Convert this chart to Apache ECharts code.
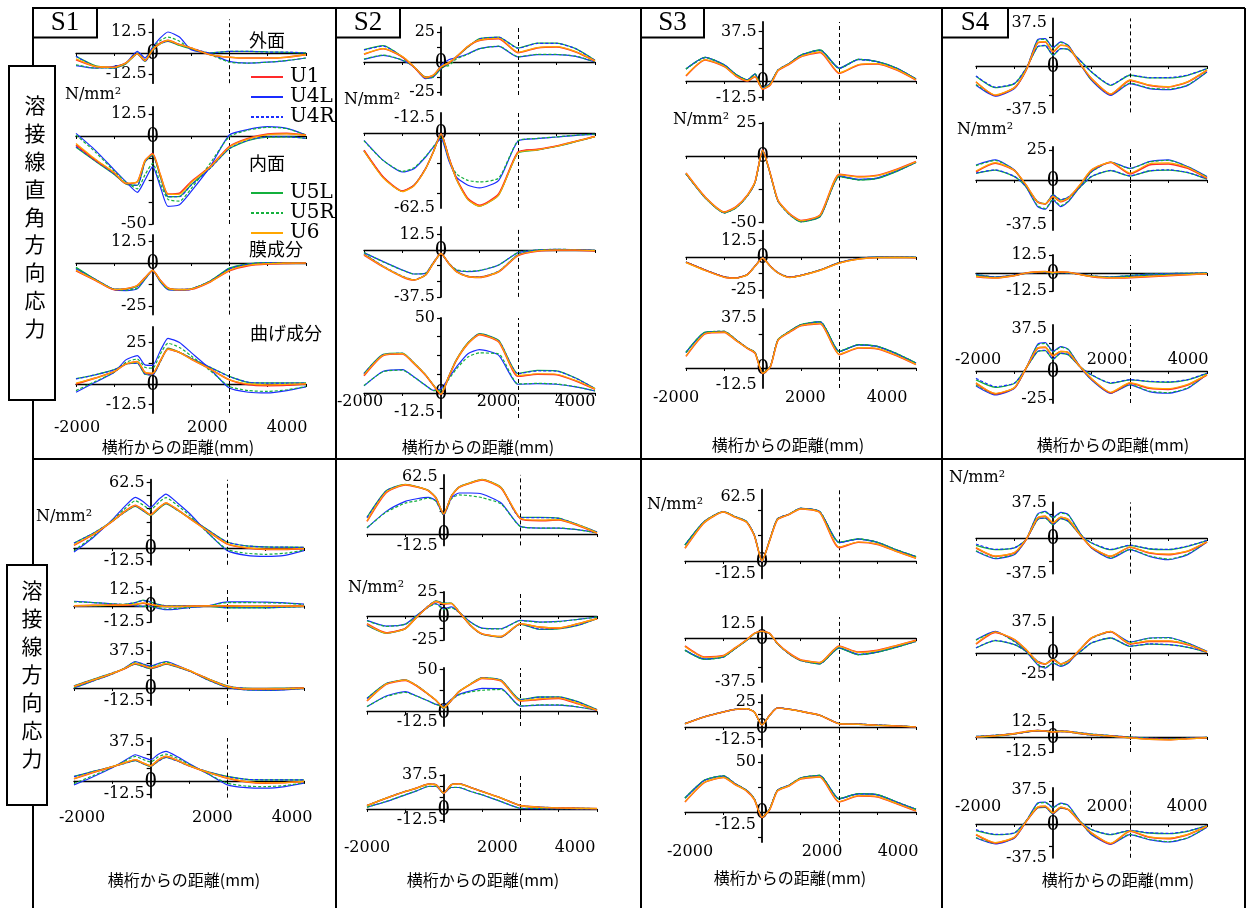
<!DOCTYPE html>
<html>
<head>
<meta charset="utf-8">
<script src="https://cdn.jsdelivr.net/npm/echarts@6/dist/echarts.min.js"></script>
<style>
html,body{margin:0;padding:0;background:#fff;}
#chart{width:1247px;height:908px;}
</style>
</head>
<body>
<div id="chart"></div>
<script>
// Distance from the cross girder (mm) at which stresses are sampled
const xPos = [-2000, -1500, -1000, -700, -400, -200, 0, 200, 400, 700, 1000, 1500, 2000, 2500, 3000, 3500, 4000];
const seriesNames = ['U1', 'U4L', 'U4R', 'U5L', 'U5R', 'U6'];
const xTickLabels = [-2000, 2000, 4000];

// Each block: rows in seriesNames order (U1, U4L, U4R, U5L, U5R, U6), N/mm2
// ---- S1: stress perpendicular to the weld line (outer, inner, membrane, bending)
const S1_perp_1 = [
  [-4, -8, -8.5, -6, -0.5, -4.5, 2, 6, 7.5, 5, 3, -1, -2.5, -3, -3, -2.5, -1],
  [-7.5, -9, -8, -6, 1, -3, 3.5, 9, 12.5, 9.5, 2, -0.5, -5, -6, -5.5, -4.5, -3],
  [-2, -8, -9, -6, -0.5, -5, 1.5, 5.5, 7, 5, 3, 0, 1, 1, 0.5, 0.5, 0],
  [-2, -7.5, -9, -6.5, -0.5, -5, 1.5, 5.5, 7, 4.5, 2.5, 0, 1, 1, 0.7, 0.4, 0],
  [-7, -9, -8.5, -6, 0, -4, 3, 7.5, 9.5, 7, 2.5, -1, -5.5, -6, -5.5, -4.5, -3],
  [-3.5, -8, -8.5, -6, -0.5, -4.5, 2, 5.5, 7.5, 5, 3, -1, -2.5, -3, -3, -2.5, -1]
];
const S1_perp_2 = [
  [-5, -13.5, -21, -27, -26, -14, -10, -22, -33, -32.5, -26, -17.4, -6, -1.3, 1.1, 1.5, 0.6],
  [1.5, -8, -19.3, -26, -32, -25, -17.4, -28.8, -40, -39, -31.6, -17.4, 0.6, 3.8, 5.3, 4.4, 0.6],
  [-6, -14, -21.6, -27, -28, -14.6, -10.8, -23, -34.5, -34.5, -28, -18.4, -7, -2.3, -0.4, -0.4, -1.3],
  [-6.3, -14.2, -21.8, -27.2, -28, -14.8, -11, -23.2, -34.5, -34.3, -27.8, -18.2, -7.2, -2.5, -0.6, -0.5, -1.3],
  [0.6, -9, -20, -26, -30, -22, -15.5, -27, -36, -37, -30, -15.5, -0.4, 3.4, 5, 4.2, 0.6],
  [-4.2, -13, -20.8, -26.8, -26, -14, -10.2, -22, -33.2, -33, -26.5, -17.6, -6.3, -1.6, 0.8, 1.2, 0.4]
];
const S1_perp_3 = [
  [-4.5, -10, -15.5, -15, -13, -8.5, -4.3, -10, -14.5, -15.5, -15.3, -11, -4.5, -1.5, -0.5, -0.2, 0],
  [-3, -9.5, -15.5, -16, -15, -9.5, -4.5, -11, -15.5, -15.8, -15.3, -10.5, -3.5, -0.8, 0, 0.2, 0.2],
  [-3.5, -9.8, -15.3, -15.2, -13.5, -8.8, -4.3, -10.3, -14.7, -15.4, -15, -10.8, -3.2, -0.6, 0.2, 0.2, 0.1],
  [-2.5, -9.5, -15.2, -15.2, -13.5, -8.8, -4.3, -10.3, -14.7, -15.4, -15, -10.6, -3, -0.5, 0.2, 0.2, 0.2],
  [-2.8, -9.5, -15.4, -15.8, -14.6, -9.3, -4.4, -10.8, -15.3, -15.7, -15.2, -10.4, -3.3, -0.7, 0.1, 0.2, 0.2],
  [-4.2, -9.9, -15.4, -15, -13.1, -8.6, -4.3, -10.1, -14.6, -15.5, -15.2, -10.9, -4.3, -1.3, -0.4, -0.1, 0]
];
const S1_perp_4 = [
  [0, 3.5, 7.5, 12, 13.5, 7, 6.2, 14, 21, 19, 15, 9, 2.5, -0.5, -1, -0.8, 0],
  [-5, 1, 7, 14.5, 17, 11.5, 11.2, 20, 27.5, 25, 19, 9, -2.5, -5, -5.4, -4, -1.8],
  [3, 5.5, 8.5, 12, 12.5, 6, 5.5, 13.5, 21, 19, 15.5, 10, 4.5, 1, 0.5, 0.5, 0.5],
  [3.2, 5.5, 8.6, 12, 12.6, 5.8, 5.4, 13.5, 21.5, 19, 15.5, 10, 4.6, 1, 0.6, 0.6, 0.6],
  [-4, 1.5, 7, 13, 15, 10, 9.5, 18, 24.5, 22, 17, 8, -1.5, -4, -4.5, -3.5, -1.5],
  [0.5, 3.5, 7.5, 12, 13.5, 7, 6.5, 14, 21, 19, 15, 9, 2.5, 0, -0.5, -0.3, 0]
];
// ---- S1: stress along the weld line
const S1_along_1 = [
  [2.5, 12.7, 25.4, 34.3, 40.6, 36.5, 31.7, 38, 42.9, 36.5, 28.6, 15.9, 3.8, 0, -1.3, -1.3, -0.6],
  [-3.8, 10, 27, 38.7, 48.3, 44.4, 38.7, 46, 51.4, 42.9, 33.3, 14.3, -2.5, -7, -8, -7, -2.5],
  [4.5, 14, 25.5, 33.5, 40, 35.5, 31.5, 37.5, 42.5, 36, 29, 17, 5.5, 2, 1, 0.8, 0.5],
  [4.8, 14, 25.5, 33.5, 39.7, 35.5, 31, 37, 42, 36, 29, 17, 5.7, 2, 1, 0.8, 0.6],
  [-2.5, 11, 26.5, 36.5, 45, 41, 36.5, 43, 48, 40.5, 31.5, 14, -1.5, -5, -6, -5, -2],
  [3, 13, 25.5, 34, 40.5, 36.5, 31.5, 38, 43, 36.5, 28.5, 16, 4, 0.3, -1, -1, -0.5]
];
const S1_along_2 = [
  [0, 0.3, 0.5, 0.5, 1, 2, 1, 0, -0.5, -0.5, -0.3, 0, 0, -0.3, -0.3, -0.3, -0.2],
  [3.5, 2.5, 1.5, 1, 0, -0.5, -0.5, -2, -3, -2.5, -1.5, 0, 3, 3, 2.8, 2.3, 1.3],
  [-0.5, 0, 0.5, 1, 2.5, 4, 3, 1, 0, 0, 0, 0, -1.5, -1.5, -1.5, -1, -0.5],
  [-0.5, 0, 0.5, 1, 2.5, 4.4, 3, 1, 0, 0, 0, -0.3, -1.5, -1.5, -1.5, -1, -0.5],
  [3, 2.5, 1.5, 1, 0.3, -0.5, -0.5, -1.5, -2.5, -2, -1.2, 0, 2.5, 2.5, 2.3, 2, 1],
  [0, 0.3, 0.5, 0.7, 1.2, 2.2, 1.2, 0, -0.5, -0.5, -0.3, 0, -0.2, -0.4, -0.4, -0.3, -0.2]
];
const S1_along_3 = [
  [1.5, 8, 14.5, 19, 24.5, 22.5, 20, 22, 24.5, 21.5, 17.5, 9, 1.5, -1, -1, -0.7, 0],
  [0, 7, 14, 19.5, 26.5, 24, 22, 24.5, 26.5, 22.5, 17.5, 8, 0.5, -2, -2.3, -1.8, -0.5],
  [2, 8.5, 15, 19, 24, 21.5, 19.5, 21.5, 24, 21, 17, 9, 2, -0.5, -0.7, -0.5, 0],
  [2.2, 8.6, 15, 19, 24, 21.5, 19.3, 21.4, 23.8, 20.8, 17, 9.2, 2.2, -0.4, -0.6, -0.4, 0],
  [0.3, 7, 14, 19.5, 26, 23.5, 21.5, 24, 26, 22, 17.5, 8, 0.7, -1.8, -2, -1.6, -0.4],
  [1.6, 8.1, 14.6, 19.1, 24.6, 22.6, 20.1, 22.1, 24.6, 21.6, 17.6, 9.1, 1.6, -0.9, -0.9, -0.6, 0]
];
const S1_along_4 = [
  [2, 8, 13.5, 17, 20.2, 17, 14.4, 20, 23.4, 19.5, 14.5, 8, 2.6, -1, -2.2, -1.8, -0.6],
  [-3.8, 4, 12.5, 19, 25, 22.5, 20.2, 25.5, 28.2, 23, 16.5, 6.5, -3.8, -6.5, -7, -5.5, -2.2],
  [4, 9, 13.5, 16.5, 19.5, 16.5, 14, 19, 22.5, 19, 14.5, 8.5, 4, 1.5, 1, 1, 1],
  [4.2, 9, 13.5, 16.5, 19.5, 16.5, 13.8, 19, 22.4, 19, 14.5, 8.5, 4.2, 1.5, 1, 1, 1],
  [-2.5, 5, 13, 18.5, 23.4, 20.5, 18, 23, 25.6, 21.5, 16, 6.5, -2.2, -5, -5.5, -4.5, -1.8],
  [2.2, 8.2, 13.6, 17, 20.3, 17.1, 14.6, 20.1, 23.4, 19.5, 14.6, 8.1, 2.8, -0.8, -2, -1.6, -0.5]
];
// ---- S2
const S2_perp_1 = [
  [6.4, 11, 4.2, -4.2, -13, -11, -4.2, -0.8, 4.2, 13, 18, 19.5, 7.8, 11.7, 12.5, 8.3, 0.8],
  [2.2, 5.6, 1.4, -4.2, -13.9, -12.5, -2.8, 1.9, 3.6, 6.9, 11.1, 13, 4.2, 6.1, 6.1, 4.7, 0],
  [10, 13.3, 4, -4.4, -12.8, -12, -5.3, -1.2, 4.4, 12.7, 19.2, 20.6, 11.5, 15.5, 15.6, 11, 1.3],
  [10.3, 13.6, 4.2, -4.2, -12.5, -12, -5.6, -1.4, 4.2, 12.5, 19.4, 20.8, 11.7, 15.8, 15.8, 11.1, 1.4],
  [2.5, 5.8, 1.6, -4, -13.5, -12.5, -4.5, -3, 2.5, 6.5, 11, 13.2, 4.4, 6.3, 6.3, 4.9, 0.2],
  [6.8, 11.2, 4.5, -4, -12.8, -11, -4, -0.6, 4.4, 13.2, 18.2, 19.8, 8.2, 12, 12.8, 8.6, 1]
];
const S2_perp_2 = [
  [-14.4, -36.7, -48.3, -43.6, -29.7, -15.8, -0.6, -20, -38, -54.7, -60.3, -50.6, -15.8, -13.6, -10.8, -6.9, -2.8],
  [-6.1, -22.8, -32.5, -29.7, -20, -11.7, -4.7, -22.8, -36.7, -43.6, -45.8, -39.4, -6.7, -4.7, -3.3, -1.9, -1.1],
  [-14.6, -36.9, -48.5, -43.6, -29.7, -15.8, -0.6, -20.2, -38.2, -55, -60.6, -51, -16.2, -13.8, -11, -7, -2.9],
  [-14.8, -37, -48.6, -43.6, -29.7, -15.8, -0.8, -20, -38.5, -55.5, -61, -51.5, -16.7, -14.2, -11.2, -7.2, -3],
  [-6.5, -23, -32, -29, -19.5, -11.5, -3, -21.5, -34, -39.5, -40.8, -37.5, -6.5, -4.5, -3.2, -1.8, -1],
  [-15, -37.5, -48.8, -44, -30, -16, -0.8, -20.5, -38.5, -55.5, -61, -51.5, -16.5, -14, -11, -7, -3]
];
const S2_perp_3 = [
  [-4, -13.5, -21.5, -24, -20, -10.7, -2.7, -10.7, -17.3, -21.3, -21.9, -17.5, -4.5, -1, -0.2, -0.2, -0.7],
  [-2.1, -9.3, -16, -19.2, -18.7, -10.1, -3.2, -10.7, -16, -17.3, -16.5, -12, -2.1, 0, 0.5, 0.3, -0.5],
  [-3, -13, -21, -23.8, -19.8, -10.5, -2.7, -10.5, -17, -21, -21.6, -17, -3.8, -0.4, 0.3, 0.2, -0.4],
  [-3.2, -13.2, -21.2, -23.9, -19.9, -10.6, -2.8, -10.6, -17.1, -21.1, -21.7, -17.1, -3.9, -0.5, 0.2, 0.1, -0.4],
  [-2, -9.5, -16.2, -19.2, -18.5, -10, -3, -10.5, -15.8, -17, -16.3, -12, -2, 0, 0.5, 0.3, -0.5],
  [-3.5, -13.3, -21.3, -24, -20, -10.7, -2.7, -10.7, -17.3, -21.3, -21.9, -17.3, -4.2, -0.8, 0, 0, -0.5]
];
const S2_perp_4 = [
  [11.5, 25, 26, 19.6, 11.8, 5.1, -1, 10.7, 21.8, 32.9, 38.9, 34, 11.1, 12.5, 12.2, 8, 2.5],
  [4.7, 14.5, 15.6, 10.7, 5.1, 1.8, 2.9, 10, 17.3, 26.2, 28.9, 25.1, 5.8, 6.2, 5.8, 4, 1.3],
  [12.8, 25.6, 26.4, 19.9, 12, 5.2, -0.5, 11, 22.1, 33.3, 39.3, 34.8, 12.8, 14.8, 14.6, 9.8, 3],
  [13, 25.8, 26.6, 20, 12, 5.3, -0.5, 11, 22.2, 33.5, 39.5, 35, 13, 15, 14.8, 10, 3],
  [5, 14.2, 15.2, 10.5, 5, 1.6, 1.5, 9, 16, 24, 26.7, 26, 6, 6.4, 6, 4.2, 1.4],
  [12, 25.2, 26.2, 19.8, 12, 5.3, -0.8, 10.9, 22, 33, 39, 34.3, 11.5, 12.8, 12.5, 8.3, 2.7]
];
const S2_along_1 = [
  [13.9, 45.5, 54, 51.6, 47.6, 39.6, 22, 41.4, 51.3, 56, 59.5, 50.5, 17, 14.7, 15.4, 9.5, 1.1],
  [6.6, 24.9, 35.9, 38.8, 40.3, 36.6, 21.2, 39.6, 45.1, 45.1, 44, 34.1, 8.4, 6.6, 6.6, 4.8, 1.1],
  [18, 47.2, 54.3, 51.8, 47.8, 39.8, 21.5, 41.6, 51.5, 56.2, 59.8, 51, 18, 18, 17.3, 10.2, 2.1],
  [18.3, 47.5, 54.5, 52, 48, 40, 21.5, 41.8, 51.7, 56.4, 60, 51.2, 18.3, 18.3, 17.6, 10.3, 2.2],
  [7, 24, 34, 36.5, 39.5, 36, 21, 38.5, 43, 42, 40, 33, 8.4, 6.6, 6.6, 4.8, 1.1],
  [14.5, 46, 54.2, 51.8, 47.8, 39.8, 22.5, 41.6, 51.5, 56.2, 59.8, 50.8, 17.5, 15.2, 15.9, 10, 1.3]
];
const S2_along_2 = [
  [-8.1, -17.5, -13, -1, 10, 15, 12.5, 13, 4.2, -9.8, -18.6, -21.5, -8.1, -11.6, -12.6, -8.1, -2.8],
  [-4.6, -10.5, -8.5, 0.7, 9.5, 13, 7.7, 9.5, 4.2, -6.3, -12.6, -13.3, -4.6, -6.3, -5.6, -3.5, -1.1],
  [-9.5, -17.8, -13, -0.8, 10.5, 15.5, 13.2, 13, 4.4, -9.8, -18.8, -21.8, -8.3, -13.7, -13, -9.6, -2.7],
  [-9.8, -18, -13.2, -1, 10.3, 15.8, 13.5, 13.3, 4.4, -10, -19, -22, -8.5, -14, -13.3, -9.8, -2.8],
  [-5, -10.8, -8.7, 0.5, 9.2, 12.5, 6.5, 8.5, 3.8, -6.5, -12.8, -13.5, -4.8, -6.5, -5.8, -3.6, -1.1],
  [-8.5, -17.8, -13.2, -1.2, 10, 15.3, 12.8, 13.2, 4.5, -9.6, -18.5, -21.3, -8, -11.4, -12.4, -8, -2.7]
];
const S2_along_3 = [
  [12.7, 32.5, 37.3, 30.6, 20.6, 13.5, 4.8, 13.5, 23.8, 32.5, 39.7, 36.5, 12.7, 14.7, 15.9, 9.5, 1.6],
  [6, 18.7, 24, 18.7, 12.7, 8.7, 7.9, 14.7, 20.6, 24.6, 27.8, 27.5, 6.7, 7.9, 7.9, 5.6, 1.6],
  [15.6, 33.3, 37.6, 30.9, 20.7, 13.4, 3.7, 13.4, 23.9, 32.8, 40.3, 37.3, 14.3, 17.3, 17.3, 11.7, 2.3],
  [15.9, 33.5, 37.8, 31, 20.8, 13.5, 3.5, 13.5, 24, 33, 40.5, 37.5, 14.5, 17.5, 17.5, 11.9, 2.4],
  [6.3, 18, 23, 18.5, 12.7, 8.5, 6.5, 14, 20, 23.5, 25.5, 26.5, 6.9, 8.1, 8.1, 5.8, 1.7],
  [13.2, 32.8, 37.5, 30.8, 20.8, 13.7, 4.5, 13.7, 24, 32.8, 40, 36.8, 13.2, 15.2, 16.3, 9.9, 1.8]
];
const S2_along_4 = [
  [3.7, 11.9, 19.3, 23, 27.4, 26.7, 17.4, 26.7, 27.8, 23.7, 19.3, 11.9, 3.7, 1.9, 1.1, 0.7, 0.4],
  [1.9, 8.1, 15.6, 20, 24.8, 24.8, 17.4, 23.7, 23.7, 19.3, 15.6, 8.1, 0.7, 0.4, 0.3, 0.2, 0.1],
  [3.8, 12, 19.4, 23.1, 27.5, 26.8, 17.5, 26.8, 27.9, 23.8, 19.4, 12, 3.8, 2, 1.2, 0.8, 0.4],
  [3.8, 12, 19.4, 23.1, 27.5, 26.8, 17.5, 26.8, 27.9, 23.8, 19.4, 12, 3.8, 2, 1.2, 0.8, 0.4],
  [2, 8.3, 15.8, 20.2, 25, 25, 17.5, 23.9, 23.9, 19.5, 15.8, 8.3, 0.8, 0.5, 0.3, 0.2, 0.1],
  [3.7, 11.9, 19.3, 23, 27.4, 26.7, 17.4, 26.7, 27.8, 23.7, 19.3, 11.9, 3.7, 1.9, 1.1, 0.7, 0.4]
];
// ---- S3
const S3_perp_1 = [
  [3.8, 15.9, 10.9, 3.8, 0, 3.3, -6.3, -3, 7.8, 12.9, 18.4, 21.7, 5.8, 12.1, 12.9, 8.3, 0.8],
  [9.2, 18, 12.2, 5, 0.8, 5.3, -5.8, -1.9, 8.2, 13.3, 19.5, 23.3, 9.7, 16.4, 14.6, 9.6, 1.5],
  [9, 17.7, 12, 5, 0.8, 5.2, -5.4, -1.7, 8.3, 13.4, 19.6, 23.4, 9.5, 16.2, 14.5, 9.5, 1.5],
  [9.1, 17.9, 12.1, 5, 0.8, 5.3, -5.6, -1.8, 8.3, 13.4, 19.7, 23.5, 9.6, 16.4, 14.6, 9.6, 1.5],
  [9.1, 17.9, 12.1, 5, 0.8, 5.3, -5.6, -1.8, 8.3, 13.4, 19.7, 23.5, 9.6, 16.4, 14.6, 9.6, 1.5],
  [4.3, 16.2, 11.2, 4, 0.2, 3.5, -6, -2.8, 8, 13.1, 18.6, 22, 6.2, 12.5, 13.2, 8.6, 1]
];
const S3_perp_2 = [
  [-12.8, -30.8, -42, -38.3, -29.5, -19.5, 4.5, -13.3, -33.3, -43.3, -48.5, -44.3, -13.8, -15.5, -14.5, -10, -4.2],
  [-13.2, -31.2, -42.5, -38.8, -29.8, -19.8, 4.5, -13.5, -33.6, -43.7, -49, -45, -15, -17.5, -16.4, -11.2, -4.6],
  [-13.4, -31.4, -42.7, -39, -30, -20, 4, -13.8, -34, -44, -49.3, -45.3, -15.3, -17.8, -16.6, -11.3, -4.7],
  [-13.5, -31.5, -42.8, -39, -30, -20, 4, -13.8, -34, -44, -49.5, -45.5, -15.5, -18, -16.8, -11.5, -4.8],
  [-13.4, -31.4, -42.7, -39, -30, -20, 4.2, -13.7, -33.9, -43.9, -49.4, -45.4, -15.4, -17.9, -16.7, -11.4, -4.7],
  [-12.9, -31, -42.2, -38.5, -29.6, -19.6, 4.3, -13.4, -33.5, -43.5, -48.7, -44.5, -14, -15.7, -14.7, -10.2, -4.3]
];
const S3_perp_3 = [
  [-4, -10, -15.2, -15.9, -13.4, -7, -0.8, -7, -12, -15.4, -14, -10, -4.5, -1.5, -0.3, -0.3, -0.5],
  [-3.8, -9.8, -15, -15.8, -13.3, -6.9, -0.7, -6.9, -11.9, -15.3, -13.9, -9.8, -4.2, -1.2, -0.1, -0.1, -0.3],
  [-3.9, -9.9, -15.1, -15.8, -13.3, -6.9, -0.7, -6.9, -11.9, -15.3, -13.9, -9.9, -4.3, -1.3, -0.2, -0.1, -0.3],
  [-3.8, -9.8, -15, -15.8, -13.3, -6.9, -0.7, -6.9, -11.9, -15.3, -13.9, -9.8, -4.2, -1.2, -0.1, -0.1, -0.3],
  [-3.8, -9.8, -15, -15.8, -13.3, -6.9, -0.7, -6.9, -11.9, -15.3, -13.9, -9.8, -4.2, -1.2, -0.1, -0.1, -0.3],
  [-4.2, -10.2, -15.3, -16, -13.5, -7.1, -0.9, -7.1, -12.1, -15.5, -14.1, -10.1, -4.6, -1.6, -0.4, -0.3, -0.5]
];
const S3_perp_4 = [
  [8.6, 25.3, 26.4, 20.5, 14.5, 11, -4, 0.8, 20.5, 26.5, 31.3, 32.8, 9.9, 14.8, 14.1, 9.1, 2.5],
  [11.4, 26.3, 27, 20.9, 14.7, 11.5, -3.8, 1.1, 20.9, 27, 31.9, 34.1, 12.1, 17.1, 15.8, 10.4, 3.5],
  [11.5, 26.4, 27.1, 21, 14.8, 11.6, -3.7, 1.2, 21, 27.1, 32, 34.2, 12.2, 17.2, 15.9, 10.5, 3.6],
  [11.6, 26.5, 27.2, 21, 14.8, 11.6, -3.7, 1.2, 21, 27.2, 32.1, 34.3, 12.3, 17.3, 16, 10.6, 3.7],
  [11.6, 26.5, 27.2, 21, 14.8, 11.6, -3.8, 1.2, 21, 27.2, 32.1, 34.3, 12.3, 17.3, 16, 10.6, 3.7],
  [8.9, 25.5, 26.6, 20.6, 14.6, 11.2, -3.9, 0.9, 20.6, 26.7, 31.5, 33, 10.2, 15.1, 14.3, 9.3, 2.7]
];
const S3_along_1 = [
  [12.4, 37.5, 48, 43, 38, 25, 0, 20, 40.5, 45.5, 51, 47.5, 13.1, 18.3, 16.3, 9.2, 2.6],
  [15.5, 38.5, 48.3, 43.4, 38.5, 25.4, -0.5, 20.5, 41, 45.7, 51.5, 48.3, 18, 21.4, 18.1, 10.6, 4],
  [15.6, 38.6, 48.4, 43.5, 38.6, 25.5, -0.3, 20.6, 41.2, 45.8, 51.6, 48.4, 18.2, 21.5, 18.2, 10.7, 4.1],
  [15.7, 38.6, 48.4, 43.5, 38.6, 25.5, 0, 20.6, 41.2, 45.8, 51.6, 48.4, 18.3, 21.6, 18.3, 10.8, 4.2],
  [15.7, 38.6, 48.4, 43.5, 38.6, 25.5, -0.2, 20.6, 41.2, 45.8, 51.6, 48.4, 18.3, 21.6, 18.3, 10.8, 4.2],
  [12.8, 37.7, 48.1, 43.1, 38.1, 25.1, 0, 20.1, 40.6, 45.6, 51.1, 47.7, 13.5, 18.6, 16.6, 9.4, 2.8]
];
const S3_along_2 = [
  [-6.8, -16.2, -15, -8.5, -1.5, 4, 5.8, 4, -4.5, -12.8, -18.5, -21, -6.8, -12, -10.5, -6.3, -2],
  [-10.3, -18, -16, -9, -1.9, 3.8, 5.8, 3.8, -4.7, -13.3, -19, -21.9, -8.3, -14, -11.8, -7.5, -2.7],
  [-10.4, -18.1, -16.1, -9, -2, 3.7, 5.7, 3.7, -4.8, -13.4, -19.1, -22, -8.4, -14.1, -11.9, -7.6, -2.8],
  [-10.5, -18.2, -16.2, -9.1, -2, 3.7, 5.7, 3.7, -4.8, -13.4, -19.1, -22, -8.5, -14.2, -12, -7.7, -2.8],
  [-10.5, -18.2, -16.2, -9.1, -2, 3.7, 5.7, 3.7, -4.8, -13.4, -19.1, -22, -8.5, -14.2, -12, -7.7, -2.8],
  [-7.2, -16.4, -15.1, -8.6, -1.6, 3.9, 5.8, 3.9, -4.5, -12.9, -18.6, -21.1, -7.1, -12.3, -10.7, -6.5, -2.1]
];
const S3_along_3 = [
  [3.3, 10, 15, 17.5, 18.3, 15, 2, 11.7, 19, 17.7, 15.7, 11.7, 3.3, 2.7, 1.7, 1, 0],
  [3.4, 10.1, 15.1, 17.6, 18.4, 15.1, 2, 11.8, 19.1, 17.8, 15.8, 11.8, 3.5, 2.9, 1.9, 1.1, 0.1],
  [3.4, 10.1, 15.1, 17.6, 18.4, 15.1, 2, 11.8, 19.1, 17.8, 15.8, 11.8, 3.5, 2.9, 1.9, 1.1, 0.1],
  [3.4, 10.1, 15.1, 17.6, 18.4, 15.1, 2, 11.8, 19.1, 17.8, 15.8, 11.8, 3.5, 2.9, 1.9, 1.1, 0.1],
  [3.4, 10.1, 15.1, 17.6, 18.4, 15.1, 2, 11.8, 19.1, 17.8, 15.8, 11.8, 3.5, 2.9, 1.9, 1.1, 0.1],
  [3.3, 10, 15, 17.5, 18.3, 15, 2, 11.7, 19, 17.7, 15.7, 11.7, 3.3, 2.7, 1.7, 1, 0]
];
const S3_along_4 = [
  [10, 29.3, 34.5, 27.5, 21, 12.5, -5.5, 2.5, 21, 26, 33, 35, 10, 16, 15, 8.3, 1],
  [13.8, 31.5, 36, 28.2, 21.6, 13.2, -5.2, 3.2, 21.6, 26.6, 33.8, 36.5, 13.1, 18.1, 17.1, 9.9, 2.6],
  [13.9, 31.6, 36.1, 28.3, 21.7, 13.3, -5, 3.3, 21.7, 26.7, 33.9, 36.6, 13.2, 18.2, 17.2, 10, 2.7],
  [14, 31.7, 36.2, 28.3, 21.7, 13.3, -5, 3.3, 21.7, 26.7, 34, 36.7, 13.3, 18.3, 17.3, 10, 2.7],
  [14, 31.7, 36.2, 28.3, 21.7, 13.3, -5.2, 3.3, 21.7, 26.7, 34, 36.7, 13.3, 18.3, 17.3, 10, 2.7],
  [10.4, 29.5, 34.7, 27.6, 21.1, 12.6, -5.4, 2.6, 21.1, 26.1, 33.1, 35.2, 10.4, 16.3, 15.3, 8.5, 1.2]
];
// ---- S4
const S4_perp_1 = [
  [-13.8, -25.3, -18.7, -3.7, 19.8, 20.7, 12.1, 17.8, 16.4, 2, -10.9, -24.4, -12.4, -16.7, -18.1, -13.8, -3.7],
  [-16.7, -26, -19.5, -3.7, 22.7, 23.6, 15.8, 20.7, 17.8, 2, -12.4, -25.3, -15.2, -19.5, -20.4, -16.7, -5.2],
  [-8.6, -18.3, -15, -2.2, 16.6, 17.7, 9.5, 15, 14.2, 4.9, -5, -16.3, -7.8, -10, -10, -7.8, -2.2],
  [-8.9, -18.7, -15.2, -2.3, 16.4, 17.5, 9.2, 14.9, 14.1, 4.9, -5.2, -16.7, -8, -10.3, -10.3, -8, -2.3],
  [-16, -25.5, -19, -3.5, 22, 23, 15.5, 20.3, 17.5, 2, -12, -24.8, -14.8, -19, -20, -16.3, -5],
  [-13.5, -25, -18.5, -3.5, 20, 21, 12.5, 18, 16.4, 2.2, -10.7, -24, -12, -16.4, -17.8, -13.5, -3.5]
];
const S4_perp_2 = [
  [6.9, 13.9, 7.8, -4.2, -18.6, -20, -13.9, -18.1, -15.3, -4.2, 8.3, 14.7, 5, 12.5, 13.3, 9.7, 1.4],
  [12.5, 16.7, 8.3, -5.6, -22.2, -24.4, -16.7, -22.2, -18.1, -5.6, 6.9, 15, 9.7, 15.3, 16.7, 11.1, 2.8],
  [5.8, 8.5, 3, -5.5, -18, -19.8, -12.3, -16.5, -14.2, -6, 3, 8, 3.5, 7.7, 8.5, 6.3, 0.9],
  [5.6, 8.3, 2.8, -5.6, -18.1, -20, -12.5, -16.7, -14.4, -6.1, 2.8, 7.8, 3.3, 7.5, 8.3, 6.1, 0.8],
  [12, 16.3, 8, -5.5, -21.5, -23.8, -16, -21.5, -17.5, -5.5, 6.7, 14.8, 9.5, 15, 16.4, 10.9, 2.7],
  [7.5, 14.5, 8, -4, -18.3, -19.8, -13.6, -17.8, -15, -4, 8.5, 14.9, 5.8, 13.5, 14.3, 10.4, 1.8]
];
const S4_perp_3 = [
  [-2.5, -3.5, -1.8, 0, 0.8, 1, 0.3, 0.8, 0.5, -1, -2.5, -3.5, -3.2, -2.5, -1.8, -1.2, -0.5],
  [-1.5, -3, -1.5, 0, 0.5, 0.5, -0.3, 0.3, 0, -1, -2.3, -3, -2.3, -1.5, -1, -0.6, -0.2],
  [-1, -2.8, -1.6, -0.2, 0.4, 0.6, -0.2, 0.4, 0.2, -0.8, -2, -2.8, -1.8, -0.8, -0.4, -0.2, 0],
  [-1, -2.8, -1.6, -0.2, 0.4, 0.6, -0.2, 0.4, 0.2, -0.8, -2, -2.8, -1.8, -0.8, -0.4, -0.2, 0],
  [-1.5, -3, -1.5, 0, 0.5, 0.5, -0.3, 0.3, 0, -1, -2.3, -3, -2.3, -1.5, -1, -0.6, -0.2],
  [-2.3, -3.4, -1.8, 0, 0.8, 1, 0.3, 0.8, 0.5, -1, -2.4, -3.4, -3, -2.3, -1.7, -1.1, -0.5]
];
const S4_perp_4 = [
  [-11, -20.5, -15, 2.4, 20.2, 21, 13.4, 17.3, 16.4, 3.9, -7, -19.5, -11, -15.5, -16.4, -12.5, -3.6],
  [-13.4, -21.4, -15.5, 2.4, 23.8, 25.3, 17.3, 21.7, 19.3, 3.9, -8, -20, -12.5, -18.5, -19.9, -15.5, -3],
  [-6.5, -14, -10.8, 2.5, 17.5, 18.4, 10.7, 16, 14.5, 4, -3.4, -10.7, -7.8, -9.2, -9.8, -7.7, -2],
  [-8, -14.6, -11, 2.4, 17.3, 18.2, 10.4, 15.8, 14.3, 3.9, -3.6, -11, -8, -9.5, -10.1, -8, -2.1],
  [-12.5, -21, -15, 2.4, 23, 24.6, 16.8, 21.2, 19, 3.9, -7.7, -19.6, -12.2, -18, -19.4, -15, -2.8],
  [-10.5, -20, -14.7, 2.5, 20.5, 21.2, 13.8, 17.5, 16.5, 4, -6.8, -19, -10.5, -14.8, -15.8, -12, -3.3]
];
const S4_along_1 = [
  [-10.5, -19.3, -15.5, -1.8, 21, 22.8, 15.8, 21.8, 19.3, 3.5, -9.8, -19.3, -9.8, -15.8, -17.5, -14, -4.2],
  [-14, -21.8, -17.5, -1.8, 25.3, 28, 21.8, 27, 24.6, 5.3, -10.5, -21.5, -12.3, -19.3, -22.8, -17.5, -4.2],
  [-6.3, -12, -10.3, -1.6, 19.5, 21.2, 14.3, 20.6, 17.7, 3.7, -5, -12, -7.5, -11.3, -12, -8.5, -2.6],
  [-7.7, -12.3, -10.5, -1.8, 19.3, 21, 14, 20.4, 17.5, 3.5, -5.3, -12.3, -7.7, -11.6, -12.3, -8.8, -2.8],
  [-13.5, -21.3, -17, -1.8, 24.5, 27.2, 21, 26.3, 24, 5.3, -10.2, -21, -12, -18.8, -22.3, -17, -4],
  [-10, -19, -15.2, -1.6, 21.3, 23, 16.2, 22, 19.5, 3.7, -9.5, -19, -9.5, -15.3, -17, -13.6, -4]
];
const S4_along_2 = [
  [10.7, 24.6, 15.9, 4, -10.7, -13.1, -7.9, -13.1, -9.9, 4, 17.9, 25.5, 10.7, 13.9, 13.9, 9.9, 1.2],
  [15.9, 25.8, 13.9, 2, -13.9, -17.9, -11.9, -15.9, -11.9, 4, 17.9, 25.4, 13.1, 17.9, 18.5, 11.9, 2],
  [6.3, 15, 10.1, 2.1, -9.7, -12.9, -6.5, -12.9, -8.9, 1.4, 12.1, 18.1, 8.1, 10.9, 10.1, 6.9, 0.9],
  [6, 14.7, 9.9, 2, -9.9, -13.1, -6.7, -13.1, -9.1, 1.2, 11.9, 17.9, 7.9, 10.7, 9.9, 6.7, 0.8],
  [15.3, 25.2, 13.5, 2, -13.3, -17.3, -11.5, -15.4, -11.5, 4, 17.5, 25, 12.8, 17.5, 18.1, 11.6, 1.9],
  [11.2, 25, 16.2, 4.2, -10.5, -13, -7.7, -12.9, -9.7, 4.2, 18.1, 25.7, 11.3, 14.5, 14.5, 10.4, 1.4]
];
const S4_along_3 = [
  [0, 1, 2.8, 4.5, 5.3, 5, 4.2, 4.7, 4.5, 3, 1.9, 0.8, -0.6, -1.8, -2.2, -1.5, -0.6],
  [0.5, 1.5, 2.8, 4, 5.5, 5.2, 4.5, 5.2, 4.8, 3.5, 2.5, 1.2, 0, -1, -1.5, -1, -0.3],
  [0, 0.8, 2.5, 4.3, 5, 4.8, 4, 4.5, 4.3, 2.8, 1.5, 0.5, -0.5, -1.5, -1.8, -1.2, -0.5],
  [0, 0.8, 2.5, 4.3, 5, 4.8, 4, 4.5, 4.3, 2.8, 1.5, 0.5, -0.5, -1.5, -1.8, -1.2, -0.5],
  [0.5, 1.5, 2.8, 4, 5.5, 5.2, 4.5, 5.2, 4.8, 3.5, 2.5, 1.2, 0, -1, -1.5, -1, -0.3],
  [0, 1, 2.8, 4.5, 5.3, 5, 4.2, 4.7, 4.5, 3, 1.9, 0.8, -0.8, -2, -2.4, -1.6, -0.6]
];
const S4_along_4 = [
  [-11.9, -21.1, -14.8, 2.5, 18.5, 19.6, 12.2, 18.5, 15.9, 2.2, -10, -22, -8.1, -14.8, -16.3, -11.9, -2.6],
  [-15.6, -22.2, -15.6, 3, 23.3, 24.4, 18.5, 23.3, 20.7, 3, -11.9, -22.6, -11.9, -17.4, -20, -15.6, -3.7],
  [-6.3, -11.6, -9.8, 3.1, 18, 18.7, 11.3, 18, 16.1, 3.1, -6, -11.6, -7.1, -9.7, -10.4, -7.8, -1.8],
  [-7.4, -11.9, -10, 3, 17.8, 18.5, 11.1, 17.8, 15.9, 3, -6.3, -11.9, -7.4, -10, -10.7, -8.1, -1.9],
  [-15, -21.6, -15.2, 3, 22.6, 23.8, 18, 22.7, 20.2, 3, -11.5, -22, -11.5, -17, -19.5, -15.2, -3.5],
  [-11.4, -20.6, -14.5, 2.7, 18.8, 19.8, 12.6, 18.7, 16.1, 2.4, -9.7, -21.5, -7.7, -14.3, -15.8, -11.5, -2.4]
];

// y-axis labels shown on each small plot: [value, text]
const S1_perp_yLabels = [[[12.5,'12.5'],[-12.5,'-12.5']], [[12.5,'12.5'],[-50,'-50']], [[12.5,'12.5'],[-25,'-25']], [[25,'25'],[-12.5,'-12.5']]];
const S1_along_yLabels = [[[62.5,'62.5'],[-12.5,'-12.5']], [[12.5,'12.5'],[-12.5,'-12.5']], [[37.5,'37.5'],[-12.5,'-12.5']], [[37.5,'37.5'],[-12.5,'-12.5']]];
const S2_perp_yLabels = [[[25,'25'],[-25,'-25']], [[12.5,'-12.5'],[-62.5,'-62.5']], [[12.5,'12.5'],[-37.5,'-37.5']], [[50,'50'],[-12.5,'-12.5']]];
const S2_along_yLabels = [[[62.5,'62.5'],[-12.5,'-12.5']], [[25,'25'],[-25,'-25']], [[50,'50'],[-12.5,'-12.5']], [[37.5,'37.5'],[-12.5,'-12.5']]];
const S3_perp_yLabels = [[[37.5,'37.5'],[-12.5,'-12.5']], [[25,'25'],[-50,'-50']], [[12.5,'12.5'],[-25,'-25']], [[37.5,'37.5'],[-12.5,'-12.5']]];
const S3_along_yLabels = [[[62.5,'62.5'],[-12.5,'-12.5']], [[12.5,'12.5'],[-37.5,'-37.5']], [[25,'25'],[-12.5,'-12.5']], [[50,'50'],[-12.5,'-12.5']]];
const S4_perp_yLabels = [[[37.5,'37.5'],[-37.5,'-37.5']], [[25,'25'],[-37.5,'-37.5']], [[12.5,'12.5'],[-12.5,'-12.5']], [[37.5,'37.5'],[-25,'-25']]];
const S4_along_yLabels = [[[37.5,'37.5'],[-37.5,'-37.5']], [[37.5,'37.5'],[-25,'-25']], [[12.5,'12.5'],[-12.5,'-12.5']], [[37.5,'37.5'],[-37.5,'-37.5']]];

// ---------------------------------------------------------------- layout
const NUM_FONT = 'DejaVu Serif';
const JP_FONT = '"Noto Sans CJK JP", sans-serif';
const X_MIN = -2000, X_MAX = 4000;

// panel: plot left edge / width, four plots [top, bottom, yMin, yMax, tickStep],
// x tick labels under the last plot: [centre y of the labels, shift of each label to the left]
const panels = [
  { left: 76, width: 230, data: [S1_perp_1, S1_perp_2, S1_perp_3, S1_perp_4], yl: S1_perp_yLabels,
    boxes: [[19.4, 83.2, -18, 20, 12.5], [107, 224, -50, 16.5, 12.5], [235, 314.6, -30, 16.3, 12.5], [327, 413, -17.5, 34.3, 12.5]],
    xl: [428, [-1, 22, 19]] },
  { left: 364, width: 231, data: [S2_perp_1, S2_perp_2, S2_perp_3, S2_perp_4], yl: S2_perp_yLabels,
    boxes: [[27.2, 95, -27.5, 29, 12.5], [113, 208, -62.5, 16.7, 25], [227, 296.9, -37.5, 18.4, 12.5], [318, 418, -16.7, 50, 12.5]],
    xl: [402, [4, 21, 20]] },
  { left: 686, width: 230, data: [S3_perp_1, S3_perp_2, S3_perp_3, S3_perp_4], yl: S3_perp_yLabels,
    boxes: [[22, 100, -14.4, 44.7, 12.5], [122.75, 222.5, -50, 25, 25], [230.6, 298, -31, 20, 12.5], [309, 388, -14.8, 43.7, 25]],
    xl: [398, [10, 34, 29]] },
  { left: 976, width: 231, data: [S4_perp_1, S4_perp_2, S4_perp_3, S4_perp_4], yl: S4_perp_yLabels,
    boxes: [[18.4, 112.4, -40, 41, 25], [147, 230, -41.7, 27.5, 25], [255, 291, -12.5, 12.5, 12.5], [325, 403, -28.6, 41, 25]],
    xl: [360, [-2, 23, 19]] },
  { left: 74, width: 230, data: [S1_along_1, S1_along_2, S1_along_3, S1_along_4], yl: S1_along_yLabels,
    boxes: [[479.75, 564.8, -16, 65, 12.5], [587, 622, -12.5, 14.5, 12.5], [642, 705, -17, 46, 12.5], [738, 797.6, -16, 41, 12.5]],
    xl: [818, [-8, 15, 12]] },
  { left: 367, width: 230, data: [S2_along_1, S2_along_2, S2_along_3, S2_along_4], yl: S2_along_yLabels,
    boxes: [[474.9, 545.4, -12.5, 65, 25], [592, 640, -25, 25, 12.5], [668, 726, -17, 52, 25], [775, 822, -14.4, 37.5, 12.5]],
    xl: [848, [0, 23, 22]] },
  { left: 685, width: 231, data: [S3_along_1, S3_along_2, S3_along_3, S3_along_4], yl: S3_along_yLabels,
    boxes: [[489.6, 578.3, -17, 70, 25], [617, 681.9, -37.5, 18, 25], [695, 747, -20, 32, 12.5], [755, 842, -30, 57, 25]],
    xl: [852, [-5, 17, 18]] },
  { left: 976, width: 231, data: [S4_along_1, S4_along_2, S4_along_3, S4_along_4], yl: S4_along_yLabels,
    boxes: [[502.4, 573.6, -37.5, 37.5, 25], [616.9, 679.9, -32, 43, 25], [722, 752, -12.5, 12.5, 12.5], [788, 857.75, -37.5, 40, 25]],
    xl: [807, [-2, 23, 20]] }
];

const lineStyles = {
  U1:  { color: '#ff2a2a', type: 'solid', width: 1.6 },
  U4L: { color: '#1a2cff', type: 'solid', width: 1.2 },
  U4R: { color: '#1a2cff', type: [3, 2], width: 1.2 },
  U5L: { color: '#13b03c', type: 'solid', width: 1.3 },
  U5R: { color: '#13b03c', type: [3, 2], width: 1.2 },
  U6:  { color: '#ffa600', type: 'solid', width: 1.2 }
};
const drawOrder = ['U5L', 'U4L', 'U4R', 'U5R', 'U1', 'U6'];

const grids = [], xAxes = [], yAxes = [], series = [];
panels.forEach(panel => {
  // pixel distance from the plot's left edge to x = 0
  const zeroOffset = panel.width * (0 - X_MIN) / (X_MAX - X_MIN);
  panel.boxes.forEach((b, k) => {
    const idx = grids.length;
    const [top, bottom, yMin, yMax, step] = b;
    grids.push({ left: panel.left, top: top, width: panel.width, height: bottom - top });

    xAxes.push({
      gridIndex: idx, type: 'value', min: X_MIN, max: X_MAX, interval: 1000,
      axisLine: { onZero: true, lineStyle: { color: '#000', width: 1.4 } },
      axisTick: { show: true, length: 3, lineStyle: { color: '#000', width: 1 } },
      splitLine: { show: false },
      axisLabel: { show: false }
    });

    const ticks = [];
    for (let v = Math.ceil(yMin / step - 1e-9) * step; v <= yMax + 1e-9; v += step) ticks.push(+v.toFixed(4));
    const labels = panel.yl[k];
    yAxes.push({
      gridIndex: idx, type: 'value', min: yMin, max: yMax,
      axisLine: { onZero: true, lineStyle: { color: '#000', width: 1.8 } },
      axisTick: { show: true, length: 4, customValues: ticks, lineStyle: { color: '#000', width: 1.2 } },
      splitLine: { show: false },
      axisLabel: {
        show: true, customValues: labels.map(d => d[0]), margin: 6 - zeroOffset,
        showMinLabel: true, showMaxLabel: true,
        fontFamily: NUM_FONT, fontSize: 16, color: '#000',
        formatter: v => { const f = labels.find(d => Math.abs(d[0] - v) < 1e-6); return f ? f[1] : ''; }
      }
    });

    drawOrder.forEach((name, j) => {
      const row = panel.data[k][seriesNames.indexOf(name)];
      const s = {
        type: 'line', name: name, xAxisIndex: idx, yAxisIndex: idx,
        data: xPos.map((x, i) => [x, row[i]]),
        symbol: 'none', smooth: 0.2, silent: true, animation: false,
        lineStyle: lineStyles[name], itemStyle: { color: lineStyles[name].color },
        z: 2 + j
      };
      if (j === 0) {
        // section boundary at 2000 mm
        s.markLine = { silent: true, symbol: ['none', 'none'], label: { show: false },
          lineStyle: { color: '#000', type: [4, 3], width: 1 }, data: [{ xAxis: 2000 }] };
      }
      if (j === drawOrder.length - 1) {
        s.markPoint = { silent: true, symbol: 'circle', symbolSize: 2,
          itemStyle: { color: 'rgba(0,0,0,0)' },
          label: { show: true, position: 'inside', formatter: '0', fontFamily: 'Liberation Serif', fontSize: 24, color: '#000' },
          data: [{ coord: [0, 0] }] };
      }
      series.push(s);
    });
  });
});

// ---------------------------------------------------------------- frame and texts
const g = [];
const line = (x1, y1, x2, y2) => g.push({ type: 'line', silent: true, shape: { x1, y1, x2, y2 }, style: { stroke: '#000', lineWidth: 2 }, z: 1 });
const text = (x, y, t, font, size, extra) => g.push({ type: 'text', silent: true, x, y, z: 20,
  style: Object.assign({ text: t, fontFamily: font, fontSize: size, fill: '#000', textAlign: 'center', textVerticalAlign: 'middle' }, extra || {}) });

line(33, 8, 1245, 8);
line(33, 459, 1245, 459);
[33, 336, 641, 942, 1245].forEach(x => line(x, 8, x, 908));

[[33, 64, 'S1'], [336, 64, 'S2'], [641, 63, 'S3'], [942, 66, 'S4']].forEach(([x, w, t]) => {
  g.push({ type: 'rect', silent: true, z: 10, shape: { x: x, y: 8, width: w, height: 29.5 }, style: { fill: '#fff', stroke: '#000', lineWidth: 2 } });
  text(x + w / 2, 23, t, 'Liberation Serif', 27);
});

g.push({ type: 'rect', silent: true, z: 10, shape: { x: 9, y: 66, width: 46, height: 334 }, style: { fill: '#fff', stroke: '#000', lineWidth: 2 } });
g.push({ type: 'rect', silent: true, z: 10, shape: { x: 7, y: 565, width: 40, height: 240 }, style: { fill: '#fff', stroke: '#000', lineWidth: 2 } });
'溶接線直角方向応力'.split('').forEach((c, i) => text(35, 105 + i * 27.9, c, JP_FONT, 21));
'溶接線方向応力'.split('').forEach((c, i) => text(32, 590 + i * 28, c, JP_FONT, 21));

text(267, 40, '外面', JP_FONT, 18);
text(267, 163, '内面', JP_FONT, 18);
text(276, 249, '膜成分', JP_FONT, 18);
text(286, 333, '曲げ成分', JP_FONT, 18);

[[93, 95], [372, 100], [701, 120], [985, 130], [64, 517], [376, 588], [675, 505], [977, 478]]
  .forEach(([x, y]) => text(x, y, 'N/mm²', NUM_FONT, 16));
[[178, 447], [478, 447], [788, 445], [1113, 445], [184, 880], [483, 880], [790, 878], [1118, 880]]
  .forEach(([x, y]) => text(x, y, '横桁からの距離(mm)', JP_FONT, 16));

const legendText = { fontFamily: NUM_FONT, fontSize: 20, color: '#000', padding: [0, 0, 0, 2] };
const chart = echarts.init(document.getElementById('chart'), null, { renderer: 'canvas' });
chart.setOption({
  animation: false,
  backgroundColor: '#fff',
  grid: grids,
  xAxis: xAxes,
  yAxis: yAxes,
  legend: [
    { data: ['U1', 'U4L', 'U4R'], orient: 'vertical', left: 245, top: 62, itemWidth: 32, itemHeight: 14, itemGap: 0,
      selectedMode: false, itemStyle: { opacity: 0 }, textStyle: Object.assign({ lineHeight: 18 }, legendText) },
    { data: ['U5L', 'U5R', 'U6'], orient: 'vertical', left: 245, top: 178, itemWidth: 32, itemHeight: 14, itemGap: 0,
      selectedMode: false, itemStyle: { opacity: 0 }, textStyle: Object.assign({ lineHeight: 17.5 }, legendText) }
  ],
  graphic: g,
  series: series
});

// x tick labels under the lowest plot of each panel, placed from the axis scale
panels.forEach((panel, p) => {
  const axisIdx = p * 4 + 3;
  xTickLabels.forEach((v, j) => {
    const px = chart.convertToPixel({ xAxisIndex: axisIdx }, v);
    text(px - panel.xl[1][j], panel.xl[0], String(v), NUM_FONT, 16);
  });
});
chart.setOption({ graphic: g });
</script>
</body>
</html>
